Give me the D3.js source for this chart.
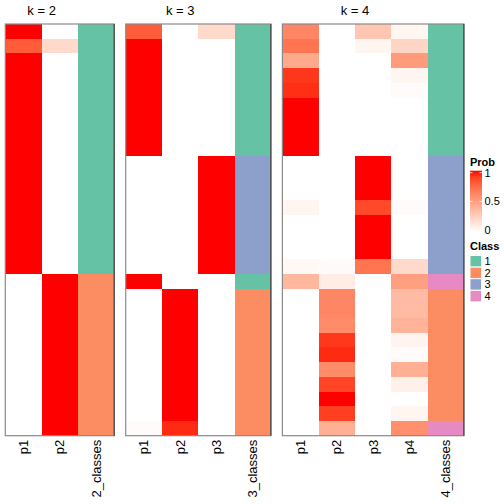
<!DOCTYPE html>
<html><head><meta charset="utf-8">
<script src="https://cdn.jsdelivr.net/npm/d3@7"></script>
<style>body{margin:0;background:#fff}svg{display:block;font-family:"Liberation Sans",Arial,sans-serif}</style>
</head><body><svg id="c" width="504" height="504"></svg>
<script>
// ---------- data ----------
const k2_p1 = [1,0.8,1,1,1,1,1,1,1,1,1,1,1,1,1,1,1,0,0,0,0,0,0,0,0,0,0,0];
const k2_p2 = [0,0.2,0,0,0,0,0,0,0,0,0,0,0,0,0,0,0,1,1,1,1,1,1,1,1,1,1,1];
const k2_class = [1,1,1,1,1,1,1,1,1,1,1,1,1,1,1,1,1,2,2,2,2,2,2,2,2,2,2,2];

const k3_p1 = [0.8,1,1,1,1,1,1,1,1,0,0,0,0,0,0,0,0,1,0,0,0,0,0,0,0,0,0,0.02];
const k3_p2 = [0,0,0,0,0,0,0,0,0,0,0,0,0,0,0,0,0,0,1,1,1,1,1,1,1,1,1,0.95];
const k3_p3 = [0.2,0,0,0,0,0,0,0,0,1,1,1,1,1,1,1,1,0,0,0,0,0,0,0,0,0,0,0];
const k3_class = [1,1,1,1,1,1,1,1,1,3,3,3,3,3,3,3,3,1,2,2,2,2,2,2,2,2,2,2];

const k4_p1 = [0.62,0.7,0.45,0.92,0.94,1,1,1,1,0,0,0,0.05,0,0,0,0.04,0.38,0,0,0,0,0,0,0,0,0,0];
const k4_p2 = [0,0,0,0,0,0,0,0,0,0,0,0,0,0,0,0,0.02,0.1,0.62,0.62,0.6,0.92,0.95,0.6,0.88,1,0.9,0.42];
const k4_p3 = [0.3,0.05,0,0,0,0,0,0,0,1,1,1,0.87,1,1,1,0.7,0,0,0,0,0,0,0,0,0,0,0];
const k4_p4 = [0.05,0.22,0.52,0.05,0.02,0,0,0,0,0,0,0,0.02,0,0,0,0.2,0.5,0.36,0.36,0.4,0.06,0.02,0.42,0.08,0,0.05,0.58];
const k4_class = [1,1,1,1,1,1,1,1,1,3,3,3,3,3,3,3,3,4,2,2,2,2,2,2,2,2,2,4];

const panelTitles = ["k = 2","k = 3","k = 4"];
const classLabels = ["1","2","3","4"];
const classColors = ["#66C2A5","#FC8D62","#8DA0CB","#E78AC3"];
const probTicks = [0, 0.5, 1];

const panels = [
  {title: panelTitles[0], cols: [["p1",k2_p1],["p2",k2_p2]], cls: ["2_classes",k2_class]},
  {title: panelTitles[1], cols: [["p1",k3_p1],["p2",k3_p2],["p3",k3_p3]], cls: ["3_classes",k3_class]},
  {title: panelTitles[2], cols: [["p1",k4_p1],["p2",k4_p2],["p3",k4_p3],["p4",k4_p4]], cls: ["4_classes",k4_class]}
];

// ---------- layout ----------
const svg = d3.select("#c");
const yTop = 24, yBot = 435.7, colW = 36.3, gap = 11.5, xLeft = 5.3;
const nRows = k2_p1.length;
const y = d3.scaleBand().domain(d3.range(nRows)).range([yTop, yBot]);
const prob = d3.scaleLinear().domain([0,1]).range(["#FFFFFF","#FF0000"]).interpolate(d3.interpolateLab);
const clsColor = d3.scaleOrdinal().domain([1,2,3,4]).range(classColors);

let x0 = xLeft;
panels.forEach(p => {
  const names = p.cols.map(c => c[0]).concat([p.cls[0]]);
  const w = colW * names.length;
  const x = d3.scaleBand().domain(names).range([x0, x0 + w]);
  const g = svg.append("g").attr("shape-rendering", "crispEdges");
  p.cols.forEach(([name, vals]) => {
    g.selectAll(null).data(vals).enter().append("rect")
      .attr("x", x(name)).attr("y", (d,i) => y(i))
      .attr("width", x.bandwidth()).attr("height", y.bandwidth())
      .attr("fill", d => prob(d));
  });
  g.selectAll(null).data(p.cls[1]).enter().append("rect")
    .attr("x", x(p.cls[0])).attr("y", (d,i) => y(i))
    .attr("width", x.bandwidth()).attr("height", y.bandwidth())
    .attr("fill", d => clsColor(d));
  const b = svg.append("g");
  b.append("rect").attr("x", x0).attr("y", yTop).attr("width", w).attr("height", yBot - yTop)
    .attr("fill", "none").attr("stroke", "#8a8a8a").attr("stroke-width", 1.2);
  b.append("line").attr("x1", x0 + w).attr("x2", x0 + w).attr("y1", yTop).attr("y2", yBot)
    .attr("stroke", "#333").attr("stroke-width", 1);
  const pEnd = x(p.cls[0]);
  svg.append("text").attr("x", (x0 + pEnd) / 2).attr("y", 15)
    .attr("text-anchor", "middle").attr("font-size", 13).text(p.title);
  names.forEach(n => {
    const cx = x(n) + x.bandwidth() / 2;
    svg.append("text").attr("transform", `translate(${cx + 4.5},${yBot + 4}) rotate(-90)`)
      .attr("text-anchor", "end").attr("font-size", 13).text(n);
  });
  x0 += w + gap;
});

// ---------- legends ----------
const lx = 470;
svg.append("text").attr("x", lx).attr("y", 166).attr("font-size", 11).attr("font-weight", "bold").text("Prob");
const defs = svg.append("defs");
const grad = defs.append("linearGradient").attr("id", "pg").attr("x1", 0).attr("x2", 0).attr("y1", 1).attr("y2", 0);
d3.range(0, 1.01, 0.1).forEach(t => grad.append("stop").attr("offset", t).attr("stop-color", prob(t)));
const ly = d3.scaleLinear().domain([0,1]).range([230, 172.7]);
svg.append("rect").attr("x", lx).attr("y", 170.7).attr("width", 12).attr("height", 61.3).attr("fill", "url(#pg)");
probTicks.forEach(t => {
  svg.append("line").attr("x1", lx).attr("x2", lx + 2.5).attr("y1", ly(t)).attr("y2", ly(t)).attr("stroke", "#fff").attr("stroke-width", 0.8);
  svg.append("line").attr("x1", lx + 9.5).attr("x2", lx + 12).attr("y1", ly(t)).attr("y2", ly(t)).attr("stroke", "#fff").attr("stroke-width", 0.8);
  svg.append("text").attr("x", lx + 14.5).attr("y", ly(t)).attr("dy", "0.36em").attr("font-size", 11).text(t === 0 ? "0" : t === 1 ? "1" : "0.5");
});
svg.append("text").attr("x", lx).attr("y", 250).attr("font-size", 11).attr("font-weight", "bold").text("Class");
classLabels.forEach((c, i) => {
  const yy = 255.5 + i * 11.6;
  svg.append("rect").attr("x", lx).attr("y", yy).attr("width", 11.6).attr("height", 11.6)
    .attr("fill", classColors[i]).attr("stroke", "#fff").attr("stroke-width", 1);
  svg.append("text").attr("x", lx + 14.5).attr("y", yy + 5.8).attr("dy", "0.36em").attr("font-size", 11).text(c);
});
</script></body></html>
